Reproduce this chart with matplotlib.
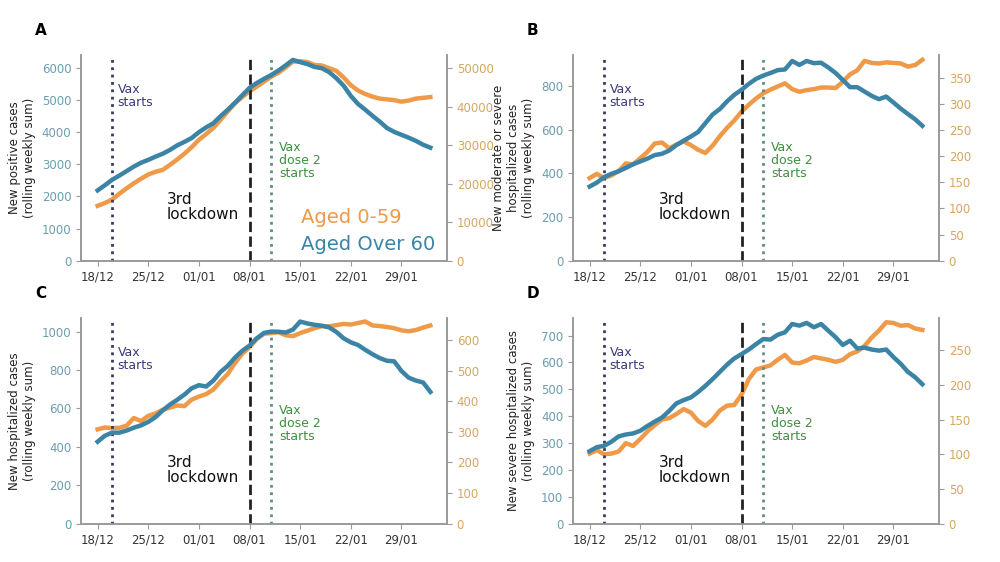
import pandas as pd
import matplotlib
matplotlib.use("Agg")
import matplotlib.pyplot as plt
import matplotlib.dates as mdates

dates = pd.date_range("2020-12-18", "2021-02-02", freq="D")
vax_start = pd.Timestamp("2020-12-20")
lockdown = pd.Timestamp("2021-01-08")
dose2 = pd.Timestamp("2021-01-11")

# A: new positive cases
a_over60 = [2190, 2350, 2520, 2650, 2790, 2930, 3050, 3140, 3240, 3330, 3450, 3590, 3700, 3820, 4000, 4150,
            4280, 4500, 4700, 4920, 5150, 5380, 5530, 5660, 5780, 5920, 6080, 6250, 6180, 6120, 6030, 5990,
            5870, 5680, 5450, 5130, 4880, 4700, 4510, 4330, 4130, 4010, 3920, 3830, 3730, 3610, 3520]
a_059 = [14270, 15000, 15900, 17400, 18800, 20100, 21300, 22400, 23100, 23600, 24900, 26300, 27800, 29500,
         31400, 32900, 34500, 36600, 38800, 40900, 42500, 44000, 45200, 46500, 47800, 48800, 50200, 51700,
         51800, 51600, 50800, 50700, 50000, 49300, 47600, 45600, 44200, 43300, 42600, 42100, 41900, 41700,
         41300, 41600, 42100, 42300, 42500]

# B: moderate or severe hospitalized
b_over60 = [340, 358, 383, 398, 410, 425, 442, 455, 468, 484, 490, 505, 530, 550, 569, 590, 630, 670, 695, 730,
            760, 783, 810, 833, 848, 860, 873, 876, 915, 897, 915, 905, 907, 885, 860, 828, 795, 795, 775, 755,
            740, 752, 725, 697, 672, 648, 618]
b_059 = [158, 166, 158, 163, 171, 186, 184, 196, 208, 224, 226, 215, 222, 228, 221, 212, 206, 220, 238, 254,
         268, 285, 298, 310, 320, 327, 333, 339, 328, 323, 326, 328, 331, 331, 330, 342, 356, 364, 382, 378,
         377, 379, 378, 377, 371, 374, 384]

# C: hospitalized
c_over60 = [427, 458, 474, 474, 485, 500, 512, 530, 555, 590, 620, 645, 672, 705, 721, 714, 745, 790, 822, 865,
            900, 927, 965, 993, 1000, 999, 995, 1010, 1052, 1042, 1035, 1030, 1022, 998, 965, 944, 930, 905,
            882, 862, 848, 845, 795, 760, 745, 735, 686]
c_059 = [308, 314, 312, 313, 320, 345, 335, 352, 360, 372, 379, 386, 384, 405, 415, 423, 438, 465, 489, 525,
         555, 576, 603, 620, 622, 625, 615, 612, 622, 630, 638, 645, 644, 648, 652, 650, 655, 660, 647, 645,
         642, 638, 631, 628, 632, 640, 647]

# D: severe hospitalized
d_over60 = [270, 285, 290, 305, 325, 332, 336, 346, 364, 380, 395, 420, 448, 460, 470, 490, 513, 538, 565, 592,
            615, 631, 648, 668, 687, 685, 703, 712, 743, 737, 747, 731, 743, 718, 694, 665, 681, 652, 655, 648,
            644, 648, 620, 595, 565, 545, 519]
d_059 = [101, 106, 100, 101, 104, 116, 112, 122, 133, 142, 150, 152, 158, 165, 160, 148, 141, 150, 163, 170,
         171, 186, 208, 222, 225, 228, 236, 243, 232, 231, 235, 240, 238, 236, 233, 236, 244, 248, 256, 268,
         278, 290, 289, 285, 286, 281, 279]

panels = [
    ("A", "New positive cases\n(rolling weekly sum)", a_over60, a_059, (0, 6400), (0, 53400)),
    ("B", "New moderate or severe\nhospitalized cases\n(rolling weekly sum)", b_over60, b_059, (0, 942), (0, 393)),
    ("C", "New hospitalized cases\n(rolling weekly sum)", c_over60, c_059, (0, 1070), (0, 671)),
    ("D", "New severe hospitalized cases\n(rolling weekly sum)", d_over60, d_059, (0, 765), (0, 296)),
]
positions = [(0.081, 0.536), (0.573, 0.536), (0.081, 0.068), (0.573, 0.068)]

blue = "#3b84a6"
orange = "#ee9a48"
blue_tick = "#6c9db0"
orange_tick = "#d5a760"
grey = "#9a9a9a"

fig = plt.figure(figsize=(10, 5.62), dpi=100)

for (letter, ylabel, old, young, ylim_l, ylim_r), (x0, y0) in zip(panels, positions):
    ax = fig.add_axes([x0, y0, 0.366, 0.366])
    ax2 = ax.twinx()
    ax.plot(dates, old, color=blue, lw=3.2, zorder=3)
    ax2.plot(dates, young, color=orange, lw=3.2, zorder=2)
    ax.set_zorder(ax2.get_zorder() + 1)
    ax.patch.set_visible(False)

    ax.set_ylim(*ylim_l)
    ax2.set_ylim(*ylim_r)

    ax.axvline(vax_start, color="#3a3a5a", ls=":", lw=2)
    ax.axvline(lockdown, color="#222222", ls="--", lw=2)
    ax.axvline(dose2, color="#5f8f80", ls=":", lw=2)

    ax.xaxis.set_major_locator(mdates.DayLocator(bymonthday=[18, 25, 1, 8, 15, 22, 29]))
    ticks = pd.date_range("2020-12-18", "2021-01-29", freq="7D")
    ax.set_xticks(ticks)
    ax.xaxis.set_major_formatter(mdates.DateFormatter("%d/%m"))

    for a in (ax, ax2):
        a.spines["top"].set_visible(False)
        for s in ("left", "right", "bottom"):
            a.spines[s].set_color(grey)
            a.spines[s].set_linewidth(1.2)
    ax.tick_params(axis="y", colors=grey, labelcolor=blue_tick, labelsize=8.5)
    ax.tick_params(axis="x", colors=grey, labelcolor="#333333", labelsize=8.5)
    ax2.tick_params(axis="y", colors=grey, labelcolor=orange_tick, labelsize=8.5)

    ax.set_ylabel(ylabel, fontsize=8.5, color="#222222")

    ax.text(0.10, 0.865, "Vax\nstarts", transform=ax.transAxes, color="#3a3a7a",
            fontsize=9, va="top", ha="left", linespacing=1.0)
    ax.text(0.542, 0.58, "Vax\ndose 2\nstarts", transform=ax.transAxes, color="#3f8f3f",
            fontsize=9, va="top", ha="left", linespacing=1.0)
    ax.text(0.235, 0.335, "3rd\nlockdown", transform=ax.transAxes, color="#111111",
            fontsize=11, va="top", ha="left", linespacing=1.0)

    fig.text(x0 - 0.046, y0 + 0.41, letter, fontsize=11, fontweight="bold", va="center", ha="left")

ax_a = fig.axes[0]
ax_a.text(0.6, 0.21, "Aged 0-59", transform=ax_a.transAxes, color=orange, fontsize=14,
          va="center", ha="left")
ax_a.text(0.6, 0.078, "Aged Over 60", transform=ax_a.transAxes, color=blue, fontsize=14,
          va="center", ha="left")

fig.savefig("out.png", dpi=100)
